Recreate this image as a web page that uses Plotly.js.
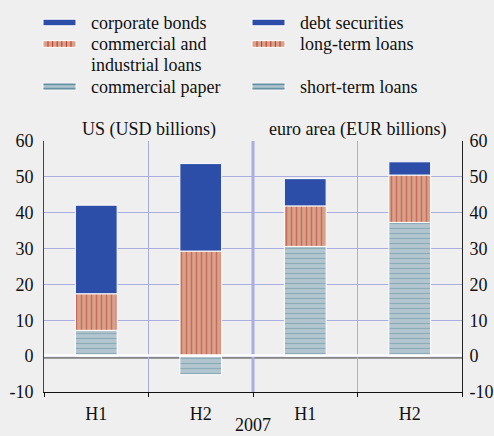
<!DOCTYPE html>
<html>
<head>
<meta charset="utf-8">
<script src="https://cdn.plot.ly/plotly-3.0.1.min.js"></script>
<style>html,body{margin:0;padding:0;background:#efefef;}#chart{width:494px;height:436px;}</style>
</head>
<body>
<div id="chart"></div>
<script>
// Data
var periods = ['H1', 'H2', 'H1', 'H2'];
var usX = [0, 1];
var euX = [2, 3];
var usCommercialPaper = [7.2, -5.2];
var usCILoans = [10.2, 29.3];
var usCorporateBonds = [24.7, 24.4];
var euShortTermLoans = [30.6, 37.3];
var euLongTermLoans = [11.3, 13.2];
var euDebtSecurities = [7.6, 3.7];
var usSeriesNames = ['corporate bonds', 'commercial and<br>industrial loans', 'commercial paper'];
var euSeriesNames = ['debt securities', 'long-term loans', 'short-term loans'];
var yTickVals = [-10, 0, 10, 20, 30, 40, 50, 60];
var yTickText = ['-10', '0', '10', '20', '30', '40', '50', '60'];
var panelTitles = ['US (USD billions)', 'euro area (EUR billions)'];
var yearLabel = '2007';

var BLUE = '#2c4ea8', SALMON = '#d9a08a', RED = '#b5392b', LBLUE = '#b3c6cf', TEAL = '#6592a3';
var LAV = '#a9addf';
var font = '"Liberation Serif", "Times New Roman", serif';
var FS = 18;
var W = 494, H = 436, ML = 44, MR = 32, MT = 141, MB = 44;
var PW = W - ML - MR, PH = H - MT - MB;
function xp(px) { return (px - ML) / PW; }
function yp(py) { return 1 - (py - MT) / PH; }

function barTrace(name, x, y, kind) {
  var m = {line: {color: '#ffffff', width: 1}};
  if (kind === 'solid') { m.color = BLUE; }
  else if (kind === 'v') { m.color = SALMON; m.pattern = {shape: '|', fgcolor: RED, bgcolor: SALMON, size: 5, solidity: 0.3, fillmode: 'overlay'}; }
  else { m.color = LBLUE; m.pattern = {shape: '-', fgcolor: TEAL, bgcolor: LBLUE, size: 5, solidity: 0.25, fillmode: 'overlay'}; }
  return {type: 'bar', name: name.replace('<br>', ' '), x: x, y: y, width: 0.4, marker: m, showlegend: false, xaxis: 'x', yaxis: 'y', hoverinfo: 'skip'};
}

var data = [
  barTrace(usSeriesNames[2], usX, usCommercialPaper, 'h'),
  barTrace(euSeriesNames[2], euX, euShortTermLoans, 'h'),
  barTrace(usSeriesNames[1], usX, usCILoans, 'v'),
  barTrace(euSeriesNames[1], euX, euLongTermLoans, 'v'),
  barTrace(usSeriesNames[0], usX, usCorporateBonds, 'solid'),
  barTrace(euSeriesNames[0], euX, euDebtSecurities, 'solid')
];

// Legend (drawn manually to match the original's wide swatches and spacing)
var shapes = [
  {type: 'line', xref: 'x', yref: 'y', x0: 0.5, x1: 0.5, y0: -10, y1: 60, line: {color: LAV, width: 1}, layer: 'below'},
  {type: 'line', xref: 'x', yref: 'y', x0: 1.5, x1: 1.5, y0: -10, y1: 60, line: {color: LAV, width: 3}, layer: 'below'},
  {type: 'line', xref: 'x', yref: 'y', x0: 2.5, x1: 2.5, y0: -10, y1: 60, line: {color: LAV, width: 1}, layer: 'below'},
  {type: 'line', xref: 'paper', yref: 'y', x0: 0, x1: 1, y0: -0.5, y1: -0.5, line: {color: '#333', width: 1}, layer: 'below'},
  {type: 'line', xref: 'paper', yref: 'y', x0: 0, x1: 1, y0: 0.15, y1: 0.15, line: {color: '#ffffff', width: 2.5}, layer: 'above'}
];
var annotations = [
  {xref: 'x', yref: 'paper', x: 0.5, y: 1.045, text: panelTitles[0], showarrow: false, yanchor: 'middle', font: {family: font, size: FS}},
  {xref: 'x', yref: 'paper', x: 2.5, y: 1.045, text: panelTitles[1], showarrow: false, yanchor: 'middle', font: {family: font, size: FS}},
  {xref: 'x', yref: 'paper', x: 1.5, y: yp(437), text: yearLabel, showarrow: false, yanchor: 'bottom', font: {family: font, size: FS}}
];

var colSym = [43, 252], colText = [89, 298];
var rowY = [22.5, 44, 86.5];
var lineStep = 20.5;
var kinds = ['solid', 'v', 'h'];
[usSeriesNames, euSeriesNames].forEach(function (names, c) {
  names.forEach(function (nm, r) {
    var x0 = colSym[c], x1 = colSym[c] + 33, yc = rowY[r];
    var y0 = yc - 3.3, y1 = yc + 3.3;
    var kind = kinds[r];
    var fill = kind === 'solid' ? BLUE : (kind === 'v' ? SALMON : LBLUE);
    shapes.push({type: 'rect', xref: 'paper', yref: 'paper', x0: xp(x0), x1: xp(x1), y0: yp(y1), y1: yp(y0),
                 fillcolor: fill, line: {color: '#ffffff', width: 1}, layer: 'above'});
    if (kind === 'v') {
      for (var k = 0; k < 6; k++) {
        var lx = x0 + 5 + k * 4.6;
        shapes.push({type: 'line', xref: 'paper', yref: 'paper', x0: xp(lx), x1: xp(lx), y0: yp(y1 - 0.5), y1: yp(y0 + 0.5),
                     line: {color: RED, width: 1}, layer: 'above'});
      }
    } else if (kind === 'h') {
      [y0 + 1.2, y1 - 1.2].forEach(function (ly) {
        shapes.push({type: 'line', xref: 'paper', yref: 'paper', x0: xp(x0 + 0.5), x1: xp(x1 - 0.5), y0: yp(ly), y1: yp(ly),
                     line: {color: TEAL, width: 1.6}, layer: 'above'});
      });
    }
    nm.split('<br>').forEach(function (line, li) {
      annotations.push({xref: 'paper', yref: 'paper', x: xp(colText[c]), y: yp(yc + li * lineStep), xanchor: 'left', yanchor: 'middle',
                        align: 'left', text: line, showarrow: false, font: {family: font, size: FS, color: '#111'}});
    });
  });
});

var layout = {
  width: W, height: H,
  paper_bgcolor: '#efefef', plot_bgcolor: '#efefef',
  margin: {l: ML, r: MR, t: MT, b: MB, pad: 0, autoexpand: false},
  font: {family: font, size: FS, color: '#111'},
  barmode: 'relative',
  showlegend: false,
  xaxis: {range: [-0.5, 3.5], tickvals: [0, 1, 2, 3], ticktext: periods, ticks: '',
          showgrid: false, zeroline: false, showline: true, linecolor: '#111', linewidth: 1,
          ticklabelstandoff: 5, tickfont: {family: font, size: FS}, fixedrange: true},
  xaxis2: {range: [-0.5, 3.5], overlaying: 'x', side: 'bottom', anchor: 'y', tickvals: [-0.5, 0.5, 1.5, 2.5, 3.5],
           ticks: 'outside', ticklen: 4, tickcolor: '#111', showticklabels: false, showgrid: false, zeroline: false, showline: false},
  yaxis: {range: [-10, 60], tickvals: yTickVals, ticktext: yTickText, gridcolor: LAV, gridwidth: 1, zeroline: false,
          showline: true, linecolor: '#444', linewidth: 1, ticks: '', ticklabelstandoff: 6,
          tickfont: {family: font, size: FS}, fixedrange: true},
  yaxis2: {range: [-10, 60], tickvals: yTickVals, ticktext: yTickText, overlaying: 'y', side: 'right', anchor: 'x',
           showgrid: false, zeroline: false, showline: true, linecolor: '#222', linewidth: 1, ticks: '', ticklabelstandoff: 3,
           tickfont: {family: font, size: FS}},
  shapes: shapes,
  annotations: annotations
};

data.push({type: 'scatter', x: [0], y: [0], xaxis: 'x2', yaxis: 'y2', mode: 'markers', marker: {opacity: 0}, showlegend: false, hoverinfo: 'skip'});

Plotly.newPlot('chart', data, layout, {staticPlot: true, displayModeBar: false});
</script>
</body>
</html>
